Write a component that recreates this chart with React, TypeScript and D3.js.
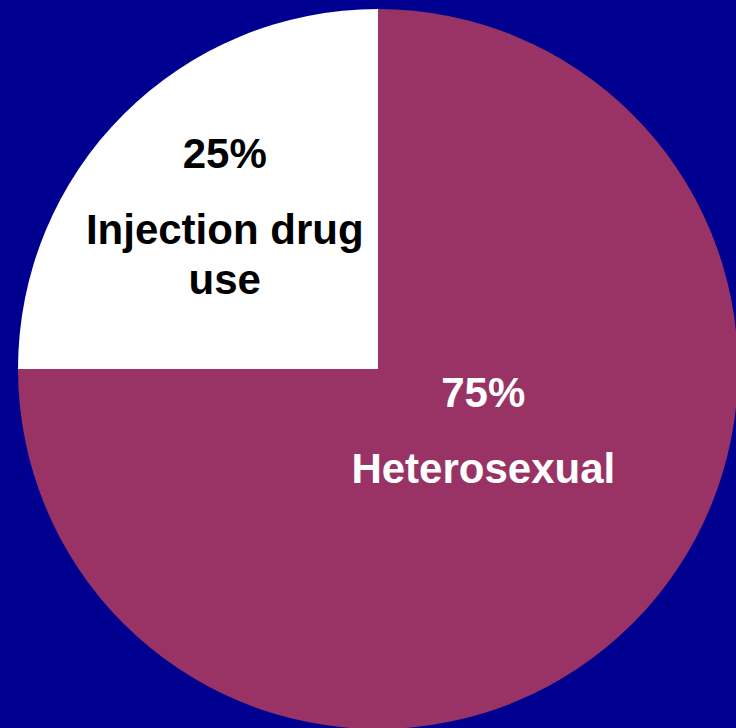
import React from "react";
import * as d3 from "d3";

const categories = ["Heterosexual", "Injection drug use"];
const values = [75, 25];
const labelLines = [["Heterosexual"], ["Injection drug", "use"]];
const colors = ["#993366", "#ffffff"];
const textColors = ["#ffffff", "#000000"];

const width = 736;
const height = 728;
const cx = 378;
const cy = 369;
const radius = 360;
const fontSize = 42;

// nudges from the slice centroid to where the labels sit
const labelShift = [
  [-22, -89],
  [-26, -74],
];

export default function App() {
  const data = categories.map((c, i) => ({ name: c, value: values[i], i }));
  const pie = d3.pie<any>().sort(null).value((d) => d.value);
  const arcs = pie(data);
  const arc = d3.arc<any>().innerRadius(0).outerRadius(radius);

  return (
    <svg
      width={width}
      height={height}
      style={{ position: "absolute", left: 0, top: 0, display: "block" }}
    >
      <rect x={0} y={0} width={width} height={height} fill="#000090" />
      <g transform={`translate(${cx}, ${cy})`}>
        {arcs.map((a) => (
          <path key={a.data.name} d={arc(a) || ""} fill={colors[a.data.i]} />
        ))}
        {arcs.map((a) => {
          const [x, y] = arc.centroid(a);
          const [dx, dy] = labelShift[a.data.i];
          const lines = labelLines[a.data.i];
          return (
            <text
              key={a.data.name + "-label"}
              x={x + dx}
              y={y + dy}
              textAnchor="middle"
              fontFamily="Liberation Sans, Arial, sans-serif"
              fontWeight="bold"
              fontSize={fontSize}
              fill={textColors[a.data.i]}
            >
              <tspan x={x + dx} dy={0}>
                {a.data.value}%
              </tspan>
              {lines.map((l, k) => (
                <tspan key={l} x={x + dx} dy={k === 0 ? 76 : 50}>
                  {l}
                </tspan>
              ))}
            </text>
          );
        })}
      </g>
    </svg>
  );
}
